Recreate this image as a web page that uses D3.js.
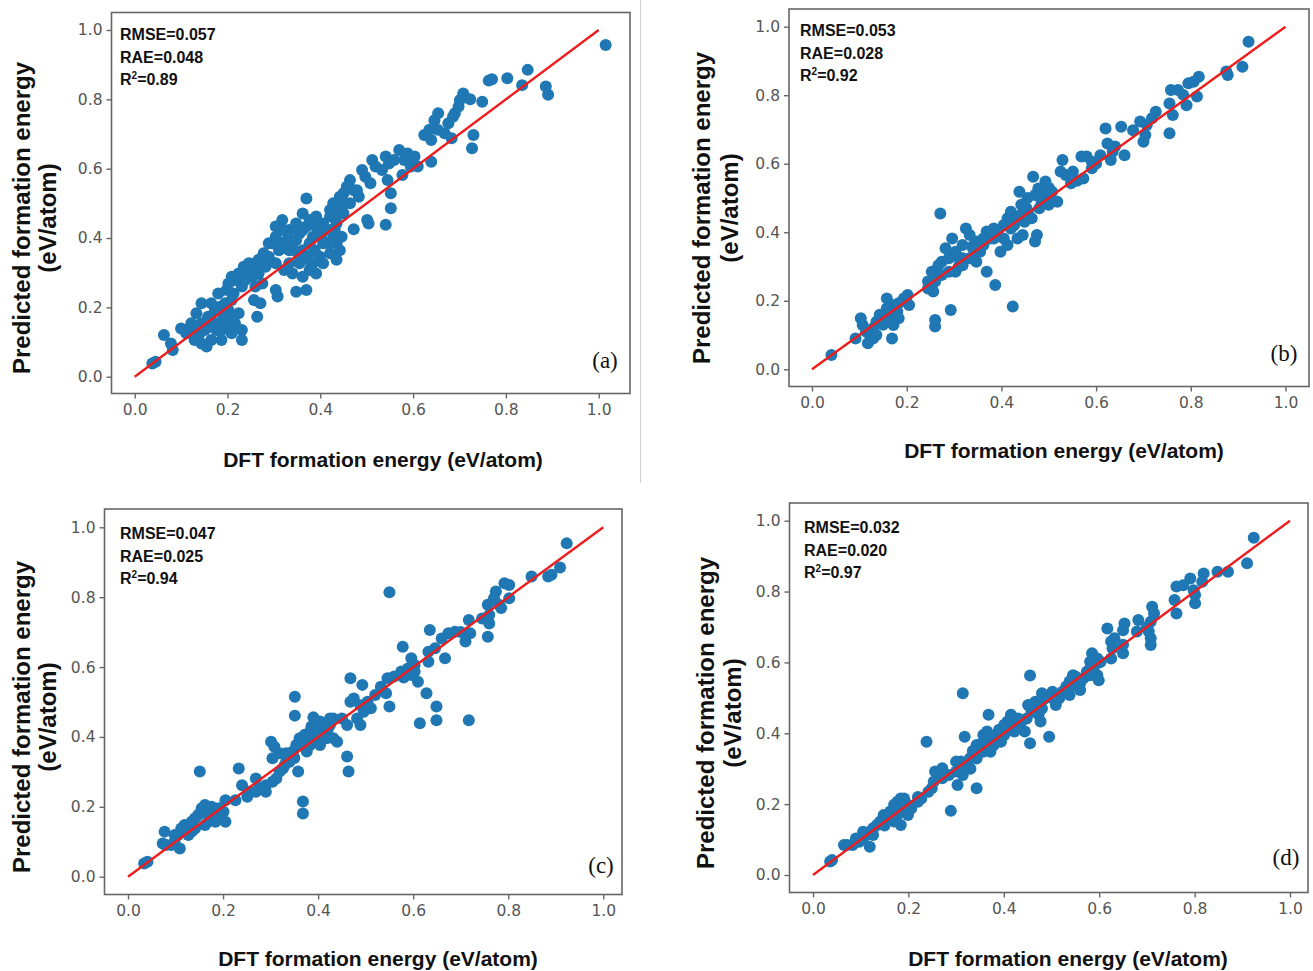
<!DOCTYPE html>
<html>
<head>
<meta charset="utf-8">
<script src="https://cdn.jsdelivr.net/npm/d3@7/dist/d3.min.js"></script>
<style>
  html, body { margin: 0; padding: 0; background: #fff; }
  svg { display: block; }
</style>
</head>
<body>
<svg id="chart" width="1313" height="971"></svg>
<script>
// ---------------- DATA ----------------
const tickValues = [0.0, 0.2, 0.4, 0.6, 0.8, 1.0];
const tickLabels = ["0.0", "0.2", "0.4", "0.6", "0.8", "1.0"];
const panelNames = ["(a)", "(b)", "(c)", "(d)"];
const rmseValues = ["0.057", "0.053", "0.047", "0.032"];
const raeValues = ["0.048", "0.028", "0.025", "0.020"];
const r2Values = ["0.89", "0.92", "0.94", "0.97"];
const xAxisTitle = "DFT formation energy (eV/atom)";
const yAxisTitle1 = "Predicted formation energy";
const yAxisTitle2 = "(eV/atom)";
const parityLine = [0, 1];

// [DFT, predicted] pairs
const pointsA = [
[1.015,0.957],[0.847,0.885],[0.835,0.841],[0.803,0.861],[0.770,0.858],[0.763,0.854],[0.886,0.837],[0.891,0.813],
[0.749,0.793],[0.708,0.817],[0.723,0.800],[0.698,0.779],[0.686,0.750],[0.676,0.731],[0.730,0.697],[0.727,0.659],
[0.683,0.688],[0.646,0.740],[0.635,0.712],[0.624,0.697],[0.639,0.683],[0.653,0.712],[0.668,0.702],[0.639,0.620],
[0.570,0.654],[0.588,0.644],[0.603,0.635],[0.581,0.625],[0.595,0.606],[0.577,0.582],[0.541,0.635],[0.548,0.615],
[0.533,0.596],[0.545,0.567],[0.552,0.529],[0.552,0.486],[0.541,0.438],[0.512,0.625],[0.490,0.596],[0.508,0.558],
[0.501,0.452],[0.504,0.442],[0.472,0.425],[0.464,0.567],[0.457,0.548],[0.442,0.519],[0.428,0.500],[0.421,0.481],
[0.435,0.490],[0.450,0.529],[0.472,0.538],[0.483,0.519],[0.370,0.514],[0.318,0.452],[0.362,0.471],[0.377,0.452],
[0.391,0.462],[0.406,0.442],[0.399,0.423],[0.370,0.433],[0.355,0.413],[0.384,0.404],[0.406,0.385],[0.428,0.404],
[0.435,0.385],[0.442,0.365],[0.421,0.356],[0.399,0.346],[0.384,0.327],[0.377,0.308],[0.362,0.288],[0.391,0.298],
[0.370,0.250],[0.348,0.245],[0.340,0.298],[0.333,0.327],[0.355,0.346],[0.318,0.385],[0.304,0.404],[0.297,0.385],
[0.311,0.365],[0.289,0.346],[0.322,0.308],[0.304,0.250],[0.308,0.231],[0.278,0.356],[0.260,0.327],[0.246,0.327],
[0.235,0.317],[0.224,0.298],[0.209,0.288],[0.202,0.269],[0.213,0.240],[0.231,0.260],[0.253,0.288],[0.267,0.298],
[0.282,0.317],[0.275,0.269],[0.260,0.260],[0.257,0.221],[0.271,0.212],[0.264,0.173],[0.144,0.212],[0.133,0.183],
[0.144,0.154],[0.158,0.173],[0.173,0.192],[0.184,0.202],[0.195,0.212],[0.209,0.221],[0.202,0.192],[0.191,0.173],
[0.180,0.154],[0.195,0.144],[0.216,0.154],[0.224,0.183],[0.231,0.135],[0.209,0.125],[0.187,0.106],[0.176,0.135],
[0.165,0.144],[0.151,0.135],[0.140,0.125],[0.129,0.106],[0.144,0.096],[0.155,0.087],[0.118,0.139],[0.111,0.125],
[0.122,0.154],[0.063,0.120],[0.078,0.096],[0.082,0.077],[0.045,0.043],[0.038,0.038],[0.304,0.433],[0.333,0.423],
[0.348,0.394],[0.333,0.365],[0.362,0.365],[0.377,0.385],[0.421,0.423],[0.435,0.442],[0.450,0.471],[0.464,0.500],
[0.435,0.462],[0.421,0.462],[0.355,0.327],[0.406,0.327],[0.435,0.337],[0.246,0.298],[0.238,0.279],[0.180,0.240],
[0.165,0.212],[0.202,0.163],[0.165,0.106],[0.231,0.106],[0.100,0.139],[0.519,0.606],[0.497,0.577],[0.559,0.625],
[0.610,0.606],[0.654,0.760],[0.690,0.760],[0.701,0.798],
[0.318,0.423],[0.329,0.394],[0.344,0.365],[0.373,0.346],[0.388,0.365],[0.402,0.404],[0.417,0.385],[0.431,0.423],
[0.446,0.404],[0.435,0.481],[0.453,0.500],[0.479,0.538],[0.289,0.385],[0.267,0.337],[0.246,0.317],[0.216,0.279],
[0.198,0.250],[0.165,0.163],[0.187,0.135],[0.213,0.173],[0.136,0.144],[0.362,0.423],[0.348,0.442],[0.333,0.394],
[0.304,0.327],[0.391,0.433],[0.380,0.327]
];

const pointsB = [
[0.922,0.956],[0.909,0.883],[0.878,0.859],[0.875,0.869],[0.817,0.854],[0.806,0.839],[0.795,0.835],[0.813,0.796],
[0.791,0.771],[0.784,0.801],[0.758,0.815],[0.773,0.815],[0.755,0.776],[0.762,0.742],[0.755,0.689],[0.726,0.752],
[0.718,0.733],[0.707,0.713],[0.693,0.723],[0.704,0.684],[0.700,0.664],[0.678,0.698],[0.653,0.708],[0.620,0.703],
[0.624,0.659],[0.635,0.635],[0.631,0.611],[0.660,0.625],[0.609,0.625],[0.591,0.606],[0.580,0.621],[0.569,0.621],
[0.591,0.587],[0.529,0.611],[0.525,0.577],[0.536,0.567],[0.551,0.577],[0.547,0.543],[0.573,0.557],[0.467,0.562],
[0.493,0.548],[0.478,0.528],[0.471,0.509],[0.493,0.509],[0.500,0.480],[0.518,0.489],[0.438,0.518],[0.442,0.480],
[0.456,0.460],[0.449,0.431],[0.464,0.441],[0.475,0.392],[0.471,0.373],[0.445,0.392],[0.434,0.382],[0.420,0.460],
[0.413,0.441],[0.405,0.421],[0.420,0.411],[0.413,0.363],[0.398,0.343],[0.384,0.411],[0.369,0.402],[0.362,0.382],
[0.347,0.373],[0.333,0.392],[0.325,0.411],[0.318,0.363],[0.303,0.343],[0.289,0.324],[0.274,0.314],[0.267,0.304],
[0.282,0.353],[0.296,0.382],[0.271,0.455],[0.347,0.343],[0.333,0.324],[0.318,0.304],[0.303,0.285],[0.289,0.285],
[0.274,0.275],[0.260,0.256],[0.256,0.227],[0.245,0.236],[0.347,0.314],[0.369,0.285],[0.387,0.246],[0.424,0.183],
[0.293,0.173],[0.260,0.144],[0.260,0.125],[0.202,0.217],[0.205,0.188],[0.194,0.207],[0.158,0.207],[0.169,0.188],
[0.180,0.168],[0.172,0.149],[0.183,0.149],[0.172,0.129],[0.169,0.090],[0.158,0.178],[0.143,0.159],[0.136,0.139],
[0.129,0.120],[0.122,0.100],[0.129,0.090],[0.107,0.129],[0.103,0.149],[0.092,0.090],[0.118,0.076],[0.136,0.100],
[0.041,0.042],[0.384,0.382],[0.355,0.343],[0.311,0.324],[0.390,0.400],[0.440,0.450],[0.455,0.500],[0.500,0.530],
[0.480,0.470],[0.340,0.360],[0.310,0.300],[0.150,0.130],[0.115,0.110],[0.160,0.160],[0.560,0.550],[0.600,0.600],
[0.640,0.650],[0.500,0.500],
[0.318,0.324],[0.340,0.353],[0.362,0.363],[0.376,0.382],[0.391,0.402],[0.405,0.382],[0.427,0.421],[0.434,0.441],
[0.453,0.470],[0.485,0.489],[0.507,0.518],[0.245,0.256],[0.253,0.285],[0.151,0.149],[0.165,0.168],[0.183,0.193],
[0.114,0.110]
];

const pointsC = [
[0.923,0.954],[0.909,0.885],[0.891,0.864],[0.884,0.859],[0.849,0.859],[0.802,0.835],[0.792,0.840],[0.774,0.816],
[0.770,0.797],[0.781,0.778],[0.802,0.797],[0.785,0.769],[0.757,0.778],[0.760,0.749],[0.745,0.739],[0.757,0.687],
[0.760,0.725],[0.550,0.814],[0.717,0.735],[0.720,0.697],[0.710,0.673],[0.688,0.701],[0.674,0.697],[0.660,0.682],
[0.667,0.625],[0.646,0.654],[0.632,0.644],[0.635,0.706],[0.632,0.615],[0.578,0.658],[0.596,0.625],[0.603,0.606],
[0.589,0.596],[0.575,0.587],[0.596,0.577],[0.610,0.558],[0.603,0.587],[0.560,0.573],[0.546,0.568],[0.532,0.544],
[0.543,0.525],[0.550,0.487],[0.628,0.525],[0.649,0.487],[0.649,0.448],[0.614,0.439],[0.717,0.448],[0.468,0.568],
[0.493,0.549],[0.468,0.501],[0.475,0.510],[0.489,0.491],[0.504,0.501],[0.511,0.482],[0.496,0.472],[0.482,0.453],
[0.489,0.434],[0.461,0.434],[0.450,0.453],[0.432,0.453],[0.425,0.434],[0.418,0.415],[0.432,0.396],[0.440,0.386],
[0.461,0.344],[0.464,0.301],[0.351,0.515],[0.351,0.461],[0.390,0.456],[0.404,0.444],[0.397,0.425],[0.383,0.415],
[0.376,0.406],[0.368,0.396],[0.361,0.396],[0.354,0.377],[0.347,0.358],[0.383,0.377],[0.404,0.377],[0.411,0.396],
[0.390,0.396],[0.376,0.358],[0.340,0.348],[0.333,0.329],[0.326,0.310],[0.319,0.301],[0.312,0.281],[0.304,0.272],
[0.290,0.262],[0.290,0.243],[0.276,0.253],[0.269,0.243],[0.304,0.339],[0.319,0.353],[0.301,0.386],[0.308,0.372],
[0.358,0.301],[0.368,0.215],[0.368,0.181],[0.233,0.310],[0.240,0.262],[0.255,0.243],[0.251,0.229],[0.269,0.281],
[0.226,0.219],[0.151,0.301],[0.205,0.219],[0.201,0.186],[0.205,0.157],[0.191,0.196],[0.184,0.186],[0.176,0.167],
[0.169,0.157],[0.162,0.148],[0.155,0.196],[0.148,0.177],[0.141,0.167],[0.141,0.138],[0.134,0.129],[0.127,0.119],
[0.119,0.148],[0.112,0.138],[0.105,0.119],[0.109,0.081],[0.098,0.100],[0.091,0.091],[0.080,0.091],[0.077,0.129],
[0.073,0.095],[0.041,0.043],[0.034,0.038],[0.162,0.205],[0.176,0.200],[0.365,0.380],[0.350,0.340],[0.395,0.410],
[0.420,0.420],[0.330,0.320],[0.520,0.520],[0.580,0.570],[0.700,0.700],[0.190,0.180],[0.130,0.140],
[0.361,0.377],[0.372,0.406],[0.386,0.430],[0.411,0.439],[0.425,0.453],[0.418,0.396],[0.340,0.329],[0.333,0.353],
[0.169,0.177],[0.184,0.157],[0.134,0.157],[0.119,0.129],[0.098,0.119]
];

const pointsD = [
[0.924,0.952],[0.910,0.880],[0.870,0.856],[0.848,0.856],[0.819,0.851],[0.816,0.828],[0.801,0.790],[0.801,0.767],
[0.791,0.837],[0.776,0.818],[0.762,0.814],[0.758,0.776],[0.762,0.738],[0.798,0.804],[0.711,0.757],[0.715,0.738],
[0.708,0.715],[0.704,0.687],[0.708,0.668],[0.708,0.649],[0.682,0.720],[0.679,0.687],[0.653,0.710],[0.650,0.691],
[0.617,0.696],[0.625,0.659],[0.628,0.640],[0.632,0.668],[0.650,0.626],[0.625,0.611],[0.585,0.626],[0.596,0.611],
[0.581,0.602],[0.588,0.583],[0.596,0.564],[0.599,0.550],[0.581,0.564],[0.574,0.574],[0.567,0.555],[0.560,0.541],
[0.545,0.564],[0.538,0.546],[0.531,0.532],[0.538,0.508],[0.560,0.522],[0.523,0.517],[0.516,0.499],[0.509,0.480],
[0.455,0.563],[0.480,0.513],[0.466,0.489],[0.451,0.480],[0.458,0.461],[0.473,0.452],[0.480,0.470],[0.448,0.442],
[0.437,0.433],[0.430,0.414],[0.422,0.405],[0.444,0.405],[0.455,0.372],[0.477,0.433],[0.495,0.390],[0.415,0.452],
[0.408,0.433],[0.401,0.395],[0.394,0.376],[0.386,0.395],[0.379,0.367],[0.372,0.348],[0.357,0.348],[0.350,0.367],
[0.357,0.395],[0.365,0.405],[0.343,0.329],[0.329,0.329],[0.321,0.301],[0.314,0.282],[0.303,0.254],[0.310,0.320],
[0.318,0.390],[0.368,0.452],[0.314,0.513],[0.343,0.245],[0.289,0.181],[0.238,0.376],[0.300,0.292],[0.285,0.282],
[0.271,0.301],[0.256,0.292],[0.253,0.263],[0.249,0.245],[0.242,0.235],[0.271,0.273],[0.227,0.216],[0.220,0.207],
[0.206,0.188],[0.199,0.169],[0.191,0.216],[0.177,0.207],[0.170,0.198],[0.162,0.179],[0.155,0.160],[0.148,0.169],
[0.141,0.151],[0.134,0.141],[0.126,0.132],[0.119,0.122],[0.112,0.113],[0.105,0.103],[0.097,0.094],[0.105,0.122],
[0.090,0.103],[0.083,0.085],[0.072,0.085],[0.065,0.085],[0.119,0.080],[0.040,0.042],[0.036,0.038],[0.170,0.151],
[0.184,0.141],[0.177,0.169],[0.335,0.350],[0.390,0.410],[0.420,0.420],[0.460,0.470],[0.500,0.500],[0.550,0.560],
[0.600,0.600],[0.650,0.650],[0.700,0.700],[0.330,0.300],[0.300,0.320],[0.220,0.220],[0.150,0.140],
[0.343,0.367],[0.336,0.348],[0.357,0.376],[0.379,0.386],[0.401,0.424],[0.415,0.433],[0.430,0.442],[0.458,0.480],
[0.487,0.499],[0.502,0.517],[0.545,0.536],[0.581,0.583],[0.603,0.602],[0.199,0.198],[0.184,0.188],[0.162,0.160],
[0.148,0.151],[0.126,0.113],[0.097,0.103],[0.184,0.216]
];

const allPoints = [pointsA, pointsB, pointsC, pointsD];

// ---------------- LAYOUT ----------------
const layout = [
  { frame: {l: 111.5, t: 12.5, r: 630, b: 393.5}, x0: 134.7, x1: 598.7, y0: 376.7, y1: 30,
    ann: {x: 120, y: 40}, label: {x: 605, y: 368}, xt: {x: 383, y: 467}, yt: {x1: 22, x2: 48, y: 218} },
  { frame: {l: 789, t: 9, r: 1309, b: 386.5}, x0: 812, x1: 1285.5, y0: 369.3, y1: 26.7,
    ann: {x: 800, y: 36}, label: {x: 1284, y: 361}, xt: {x: 1064, y: 458}, yt: {x1: 702, x2: 730, y: 208} },
  { frame: {l: 104.5, t: 509, r: 622, b: 894.5}, x0: 128, x1: 603.3, y0: 876.7, y1: 527.3,
    ann: {x: 120, y: 539}, label: {x: 601, y: 873}, xt: {x: 378, y: 966}, yt: {x1: 22, x2: 48, y: 717} },
  { frame: {l: 789.5, t: 503, r: 1308, b: 892.5}, x0: 813, x1: 1290, y0: 875, y1: 520.7,
    ann: {x: 804, y: 533}, label: {x: 1286, y: 865}, xt: {x: 1068, y: 966}, yt: {x1: 706, x2: 733, y: 713} }
];

const svg = d3.select("#chart");

// faint separator line in the top row
svg.append("line")
  .attr("x1", 640.5).attr("x2", 640.5).attr("y1", 0).attr("y2", 483)
  .attr("stroke", "#d0d0d0").attr("stroke-width", 1);

const fmt = (d) => tickLabels[tickValues.indexOf(d)];

layout.forEach((L, i) => {
  const g = svg.append("g");
  const x = d3.scaleLinear().domain([0, 1]).range([L.x0, L.x1]);
  const y = d3.scaleLinear().domain([0, 1]).range([L.y0, L.y1]);
  const f = L.frame;

  // points
  g.append("g").selectAll("circle")
    .data(allPoints[i])
    .join("circle")
    .attr("cx", d => x(d[0]))
    .attr("cy", d => y(d[1]))
    .attr("r", 6)
    .attr("fill", "#1f77b4");

  // parity line
  g.append("line")
    .attr("x1", x(parityLine[0])).attr("y1", y(parityLine[0]))
    .attr("x2", x(parityLine[1])).attr("y2", y(parityLine[1]))
    .attr("stroke", "#ee1d1d").attr("stroke-width", 2.4);

  // frame
  g.append("rect")
    .attr("x", f.l).attr("y", f.t).attr("width", f.r - f.l).attr("height", f.b - f.t)
    .attr("fill", "none").attr("stroke", "#666").attr("stroke-width", 1.6);

  // axes
  const xa = g.append("g").attr("transform", `translate(0,${f.b})`)
    .call(d3.axisBottom(x).tickValues(tickValues).tickFormat(fmt).tickSize(5).tickPadding(5));
  const ya = g.append("g").attr("transform", `translate(${f.l},0)`)
    .call(d3.axisLeft(y).tickValues(tickValues).tickFormat(fmt).tickSize(5).tickPadding(4));
  [xa, ya].forEach(a => {
    a.select(".domain").remove();
    a.selectAll(".tick line").attr("stroke", "#666").attr("stroke-width", 1.4);
    a.selectAll(".tick text")
      .attr("fill", "#555")
      .style("font-family", "'DejaVu Sans', sans-serif")
      .style("font-size", "15.5px");
  });

  // annotation
  const ann = g.append("text")
    .attr("x", L.ann.x).attr("y", L.ann.y)
    .style("font-family", "'Liberation Sans', Arial, sans-serif")
    .style("font-weight", "bold").style("font-size", "16px").attr("fill", "#111");
  ann.append("tspan").attr("x", L.ann.x).attr("dy", 0).text("RMSE=" + rmseValues[i]);
  ann.append("tspan").attr("x", L.ann.x).attr("dy", 22.5).text("RAE=" + raeValues[i]);
  const r2 = g.append("text")
    .attr("x", L.ann.x).attr("y", L.ann.y + 45)
    .style("font-family", "'Liberation Sans', Arial, sans-serif")
    .style("font-weight", "bold").style("font-size", "16px").attr("fill", "#111");
  r2.append("tspan").text("R");
  r2.append("tspan").attr("dy", -6).style("font-size", "10px").text("2");
  r2.append("tspan").attr("dy", 6).text("=" + r2Values[i]);

  // panel label
  g.append("text")
    .attr("x", L.label.x).attr("y", L.label.y).attr("text-anchor", "middle")
    .style("font-family", "'Liberation Serif', 'Times New Roman', serif")
    .style("font-size", "23px").attr("fill", "#111")
    .text(panelNames[i]);

  // x title
  g.append("text")
    .attr("x", L.xt.x).attr("y", L.xt.y).attr("text-anchor", "middle")
    .style("font-family", "'Liberation Sans', Arial, sans-serif")
    .style("font-weight", "bold").style("font-size", "21px").attr("fill", "#111")
    .text(xAxisTitle);

  // y title (two lines)
  [[L.yt.x1, yAxisTitle1], [L.yt.x2, yAxisTitle2]].forEach(([cx, t]) => {
    g.append("text")
      .attr("transform", `translate(${cx},${L.yt.y}) rotate(-90)`)
      .attr("text-anchor", "middle").attr("dy", "0.35em")
      .style("font-family", "'Liberation Sans', Arial, sans-serif")
      .style("font-weight", "bold").style("font-size", "24px").attr("fill", "#111")
      .text(t);
  });
});
</script>
</body>
</html>
